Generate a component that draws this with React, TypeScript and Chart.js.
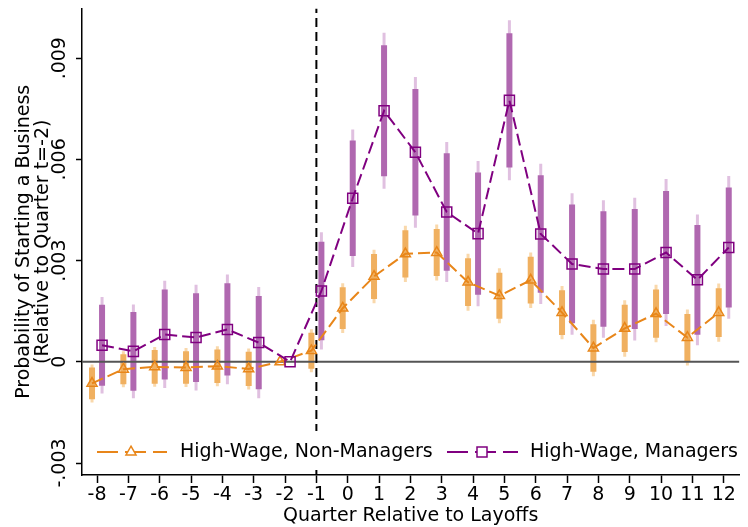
import React, { useEffect, useRef } from "react";
import { Chart, registerables } from "chart.js";

Chart.register(...registerables);

const FONT = "DejaVu Sans";

const quarters = [-8, -7, -6, -5, -4, -3, -2, -1, 0, 1, 2, 3, 4, 5, 6, 7, 8, 9, 10, 11, 12];

const nonMgrEst = [-0.00064, -0.00022, -0.00015, -0.00017, -0.00013, -0.00021, 0, 0.00033, 0.00159, 0.00253, 0.0032, 0.00324, 0.00236, 0.00196, 0.00242, 0.00146, 0.00041, 0.00099, 0.00143, 0.00072, 0.00146];
const nonMgrSE = [0.000287, 0.000271, 0.000302, 0.000294, 0.000302, 0.00031, 0, 0.000325, 0.000377, 0.000405, 0.000427, 0.000422, 0.00043, 0.000415, 0.00042, 0.000403, 0.000427, 0.000427, 0.000435, 0.000422, 0.00044];

const mgrEst = [0.00049, 0.00031, 0.00081, 0.00072, 0.00096, 0.00057, 0, 0.0021, 0.00485, 0.00744, 0.00621, 0.00444, 0.0038, 0.00775, 0.00379, 0.0029, 0.00275, 0.00275, 0.00324, 0.00243, 0.00339];
const mgrSE = [0.000729, 0.000709, 0.000811, 0.0008, 0.00083, 0.00084, 0, 0.000887, 0.00104, 0.00118, 0.00114, 0.00106, 0.0011, 0.00121, 0.00106, 0.00107, 0.00104, 0.00108, 0.00111, 0.00099, 0.00108];

const yTickValues = [-0.003, 0, 0.003, 0.006, 0.009];
const yTickLabels = ["-.003", "0", ".003", ".006", ".009"];

const seriesNames = ["High-Wage, Non-Managers", "High-Wage, Managers"];
const yTitle = ["Probability of Starting a Business", "(Relative to Quarter t=-2)"];
const xTitle = "Quarter Relative to Layoffs";
const eventQuarter = -1;

const X_MIN = -8.48;
const X_MAX = 12.5;
const Y_MIN = -0.003355;
const Y_MAX = 0.01047;
const SHIFT = 0.16;
const Z90 = 1.645;
const Z95 = 1.96;

const ORANGE = "#e8861a";
const ORANGE_IN = "#f0b060";
const ORANGE_OUT = "#f9d8ab";
const PURPLE = "#800080";
const PURPLE_IN = "#b068b0";
const PURPLE_OUT = "#e0c0e0";

function ciData(est: number[], se: number[], z: number, shift: number) {
  const out: { x: number; y: [number, number] }[] = [];
  quarters.forEach((q, i) => {
    if (se[i] > 0) out.push({ x: q + shift, y: [est[i] - z * se[i], est[i] + z * se[i]] });
  });
  return out;
}

function drawMarker(ctx: CanvasRenderingContext2D, kind: string, x: number, y: number, color: string) {
  ctx.save();
  ctx.strokeStyle = color;
  ctx.lineWidth = 1.5;
  ctx.beginPath();
  if (kind === "triangle") {
    const r = 5.8;
    ctx.moveTo(x, y - r);
    ctx.lineTo(x + r * 0.866, y + r * 0.5);
    ctx.lineTo(x - r * 0.866, y + r * 0.5);
    ctx.closePath();
  } else {
    const s = 5;
    ctx.rect(x - s, y - s, 2 * s, 2 * s);
  }
  ctx.fillStyle = "#fff";
  ctx.fill();
  ctx.stroke();
  ctx.restore();
}

const legendPlugin = {
  id: "stataLegend",
  afterDraw(chart: any) {
    const { ctx, chartArea: ca } = chart;
    ctx.save();
    ctx.fillStyle = "#fff";
    ctx.fillRect(ca.left + 2, ca.bottom - 44, ca.right - ca.left - 2, 39);
    const cy = ca.bottom - 23;
    const items = [
      { x0: ca.left + 15, x1: ca.left + 85, mk: ca.left + 49, tx: ca.left + 98, color: ORANGE, kind: "triangle", label: seriesNames[0] },
      { x0: ca.left + 365, x1: ca.left + 436, mk: ca.left + 400, tx: ca.left + 448, color: PURPLE, kind: "rect", label: seriesNames[1] },
    ];
    items.forEach((it) => {
      ctx.save();
      ctx.strokeStyle = it.color;
      ctx.lineWidth = 2;
      ctx.setLineDash([21, 7]);
      ctx.beginPath();
      ctx.moveTo(it.x0, cy);
      ctx.lineTo(it.x1, cy);
      ctx.stroke();
      ctx.restore();
      drawMarker(ctx, it.kind, it.mk, cy, it.color);
      ctx.fillStyle = "#000";
      ctx.font = `19px "${FONT}"`;
      ctx.textBaseline = "middle";
      ctx.textAlign = "left";
      ctx.fillText(it.label, it.tx, cy);
    });
    ctx.restore();
  },
};

export default function App() {
  const ref = useRef<HTMLCanvasElement | null>(null);

  useEffect(() => {
    if (!ref.current) return;
    const chart = new Chart(ref.current, {
      type: "line",
      data: {
        datasets: [
          {
            type: "line",
            label: seriesNames[1],
            data: quarters.map((q, i) => ({ x: q + SHIFT, y: mgrEst[i] })),
            borderColor: PURPLE,
            borderWidth: 2,
            borderDash: [12, 5],
            pointStyle: "rect",
            pointRadius: 7.1,
            pointBorderWidth: 1.5,
            pointBorderColor: PURPLE,
            pointBackgroundColor: "rgba(0,0,0,0)",
            tension: 0,
            order: 0,
          } as any,
          {
            type: "line",
            label: seriesNames[0],
            data: quarters.map((q, i) => ({ x: q - SHIFT, y: nonMgrEst[i] })),
            borderColor: ORANGE,
            borderWidth: 2,
            borderDash: [12, 5],
            pointStyle: "triangle",
            pointRadius: 5.8,
            pointBorderWidth: 1.5,
            pointBorderColor: ORANGE,
            pointBackgroundColor: "rgba(0,0,0,0)",
            tension: 0,
            order: 1,
          } as any,
          {
            type: "line",
            label: "event",
            data: [
              { x: eventQuarter, y: Y_MIN },
              { x: eventQuarter, y: Y_MAX },
            ],
            borderColor: "#000",
            borderWidth: 2,
            borderDash: [9, 5],
            pointRadius: 0,
            order: 2,
          } as any,
          {
            type: "line",
            label: "zero",
            data: [
              { x: X_MIN, y: 0 },
              { x: X_MAX, y: 0 },
            ],
            borderColor: "#555",
            borderWidth: 2,
            pointRadius: 0,
            order: 3,
          } as any,
          {
            type: "bar",
            label: "mgr90",
            data: ciData(mgrEst, mgrSE, Z90, SHIFT),
            backgroundColor: PURPLE_IN,
            grouped: false,
            maxBarThickness: 6,
            borderWidth: 0,
            order: 4,
          } as any,
          {
            type: "bar",
            label: "mgr95",
            data: ciData(mgrEst, mgrSE, Z95, SHIFT),
            backgroundColor: PURPLE_OUT,
            grouped: false,
            maxBarThickness: 3,
            borderWidth: 0,
            order: 5,
          } as any,
          {
            type: "bar",
            label: "non90",
            data: ciData(nonMgrEst, nonMgrSE, Z90, -SHIFT),
            backgroundColor: ORANGE_IN,
            grouped: false,
            maxBarThickness: 6,
            borderWidth: 0,
            order: 6,
          } as any,
          {
            type: "bar",
            label: "non95",
            data: ciData(nonMgrEst, nonMgrSE, Z95, -SHIFT),
            backgroundColor: ORANGE_OUT,
            grouped: false,
            maxBarThickness: 3,
            borderWidth: 0,
            order: 7,
          } as any,
        ],
      },
      options: {
        responsive: false,
        animation: false,
        devicePixelRatio: 1,
        layout: { padding: { top: 7, right: 5, left: 0, bottom: 0 } },
        plugins: { legend: { display: false }, tooltip: { enabled: false } },
        scales: {
          x: {
            type: "linear",
            min: X_MIN,
            max: X_MAX,
            offset: false,
            afterBuildTicks: (s: any) => {
              s.ticks = quarters.map((v) => ({ value: v }));
            },
            afterFit: (s: any) => {
              s.height = 52;
            },
            ticks: {
              autoSkip: false,
              maxRotation: 0,
              minRotation: 0,
              padding: 1,
              color: "#000",
              font: { family: FONT, size: 19 },
              callback: (v: any) => String(v),
            },
            grid: { drawOnChartArea: false, drawTicks: true, tickLength: 8, tickColor: "#000", tickWidth: 1.5, offset: false },
            border: { display: true, color: "#000", width: 1.5 },
            title: {
              display: true,
              text: xTitle,
              color: "#000",
              font: { family: FONT, size: 19, lineHeight: 1.2 },
              padding: { top: 0, bottom: 0 },
            },
          } as any,
          y: {
            type: "linear",
            min: Y_MIN,
            max: Y_MAX,
            afterBuildTicks: (s: any) => {
              s.ticks = yTickValues.map((v) => ({ value: v }));
            },
            afterFit: (s: any) => {
              s.width = 82;
            },
            ticks: {
              minRotation: 90,
              maxRotation: 90,
              crossAlign: "center",
              padding: -9,
              color: "#000",
              font: { family: FONT, size: 19 },
              callback: (v: any) => {
                const idx = yTickValues.findIndex((t) => Math.abs(t - v) < 1e-9);
                return idx >= 0 ? yTickLabels[idx] : "";
              },
            },
            grid: { drawOnChartArea: false, drawTicks: true, tickLength: 6, tickColor: "#000", tickWidth: 1.5 },
            border: { display: true, color: "#000", width: 1.5 },
            title: {
              display: true,
              text: yTitle,
              color: "#000",
              font: { family: FONT, size: 19, lineHeight: 0.95 },
              padding: { top: 15.5, bottom: 0 },
            },
          } as any,
        },
      },
      plugins: [legendPlugin],
    });
    return () => chart.destroy();
  }, []);

  return (
    <div style={{ position: "absolute", left: 0, top: 0, width: 748, height: 527, background: "#fff" }}>
      <canvas ref={ref} width={748} height={527} style={{ display: "block", width: 748, height: 527 }} />
    </div>
  );
}
